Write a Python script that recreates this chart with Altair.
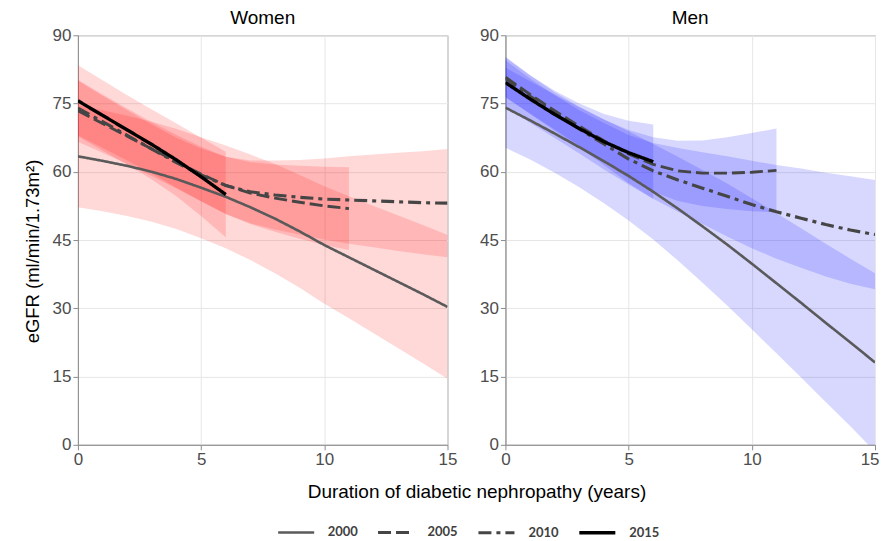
import altair as alt
import pandas as pd

# ---------------- data ----------------
YEARS = ["2000", "2005", "2010", "2015"]
X15 = list(range(16))
X11 = list(range(12))
X6 = list(range(7))

# Women
W2000_mid = [63.4, 62.4, 61.3, 60.0, 58.4, 56.5, 54.5, 52.2, 49.7, 46.9, 43.9, 41.2, 38.5, 35.8, 33.1, 30.3]
W2000_lo = [52.2, 51.3, 50.3, 49.0, 47.4, 45.4, 43.2, 40.6, 37.7, 34.5, 31.0, 27.8, 24.5, 21.2, 17.9, 14.5]
W2000_hi = [74.6, 73.5, 72.3, 71.0, 69.4, 67.6, 65.8, 63.8, 61.7, 59.3, 56.8, 54.6, 52.5, 50.4, 48.3, 46.1]

W2005_mid = [73.4, 70.6, 67.8, 65.0, 62.2, 59.5, 57.0, 55.3, 54.2, 53.3, 52.5, 51.9]
W2005_lo = [66.6, 64.2, 61.7, 59.1, 56.3, 53.5, 50.7, 48.5, 46.8, 45.3, 43.9, 42.8]
W2005_hi = [80.2, 77.0, 73.9, 70.9, 68.1, 65.5, 63.3, 62.1, 61.6, 61.3, 61.1, 61.0]

W2010_mid = [74.0, 71.0, 68.0, 65.0, 62.0, 59.3, 57.0, 55.6, 54.9, 54.4, 54.0, 53.8, 53.6, 53.4, 53.2, 53.1]
W2010_lo = [68.0, 65.3, 62.5, 59.6, 56.5, 53.5, 50.7, 48.7, 47.3, 46.2, 45.1, 44.2, 43.4, 42.6, 41.9, 41.2]
W2010_hi = [80.0, 76.7, 73.5, 70.4, 67.5, 65.1, 63.3, 62.5, 62.5, 62.6, 62.9, 63.4, 63.8, 64.2, 64.5, 65.0]

W2015_mid = [75.6, 72.4, 69.2, 66.0, 62.6, 58.9, 55.0]
W2015_lo = [67.8, 64.7, 61.6, 58.3, 54.6, 50.3, 45.6]
W2015_hi = [83.4, 80.1, 76.8, 73.7, 70.6, 67.5, 64.4]

# Men
M2000_mid = [74.1, 71.3, 68.4, 65.4, 62.3, 59.1, 55.6, 51.9, 48.0, 44.0, 39.8, 35.5, 31.2, 26.8, 22.5, 18.1]
M2000_lo = [65.3, 62.7, 59.8, 56.6, 53.1, 49.3, 45.1, 40.5, 35.6, 30.6, 25.4, 20.1, 14.8, 9.4, 4.1, -1.5]
M2000_hi = [82.9, 79.9, 77.0, 74.2, 71.5, 68.9, 66.1, 63.3, 60.4, 57.4, 54.2, 50.9, 47.6, 44.2, 40.9, 37.7]

M2005_mid = [80.8, 77.0, 73.4, 70.0, 66.8, 63.9, 61.6, 60.2, 59.7, 59.7, 59.9, 60.3]
M2005_lo = [76.3, 72.8, 69.3, 65.7, 62.1, 58.6, 55.6, 53.6, 52.5, 51.8, 51.3, 51.1]
M2005_hi = [85.3, 81.2, 77.5, 74.3, 71.5, 69.2, 67.6, 66.8, 66.9, 67.6, 68.5, 69.5]

M2010_mid = [80.5, 76.6, 72.9, 69.4, 66.1, 62.8, 60.2, 58.2, 56.4, 54.6, 52.8, 51.2, 49.8, 48.4, 47.2, 46.2]
M2010_lo = [76.5, 72.7, 69.0, 65.3, 61.5, 57.5, 54.1, 51.2, 48.5, 45.8, 43.2, 40.9, 38.9, 37.0, 35.4, 34.2]
M2010_hi = [84.5, 80.5, 76.8, 73.5, 70.7, 68.1, 66.3, 65.2, 64.3, 63.4, 62.4, 61.5, 60.7, 59.8, 59.0, 58.2]

M2015_mid = [79.6, 76.0, 72.6, 69.5, 66.6, 64.2, 62.2]
M2015_lo = [74.1, 70.8, 67.4, 64.0, 60.5, 57.2, 54.0]
M2015_hi = [85.1, 81.2, 77.8, 75.0, 72.7, 71.2, 70.4]

LINE_COLORS = ["#5a5a5a", "#454545", "#454545", "#000000"]
LINE_DASHES = [[1, 0], [13, 5], [13, 5, 4, 5], [1, 0]]
LINE_WIDTHS = [2.6, 3.4, 3.0, 3.2]
FILL = {"Women": "#ff1a1a", "Men": "#1a1aff"}

FONT = "Liberation Sans"

series = {
    "Women": [
        ("2000", X15, W2000_mid, W2000_lo, W2000_hi),
        ("2005", X11, W2005_mid, W2005_lo, W2005_hi),
        ("2010", X15, W2010_mid, W2010_lo, W2010_hi),
        ("2015", X6, W2015_mid, W2015_lo, W2015_hi),
    ],
    "Men": [
        ("2000", X15, M2000_mid, M2000_lo, M2000_hi),
        ("2005", X11, M2005_mid, M2005_lo, M2005_hi),
        ("2010", X15, M2010_mid, M2010_lo, M2010_hi),
        ("2015", X6, M2015_mid, M2015_lo, M2015_hi),
    ],
}


def frame(sex):
    rows = []
    for year, xs, mid, lo, hi in series[sex]:
        for x, m, l, h in zip(xs, mid, lo, hi):
            rows.append({"year": year, "x": x, "mid": m, "lo": l, "hi": h})
    return pd.DataFrame(rows)


LEGEND = alt.Legend(title=None, orient="none", direction="horizontal",
                    legendX=199, legendY=478,
                    symbolType="stroke", symbolStrokeWidth=3.5,
                    symbolSize=1300, labelFontSize=13,
                    labelFont="Lato", labelFontWeight="bold",
                    labelColor="#404040", labelOffset=12,
                    columnPadding=13)


def panel(sex, show_ytitle, show_xtitle):
    df = frame(sex)
    common = dict(values=[0, 5, 10, 15], labelFontSize=17, labelPadding=2,
                  labelFlush=False, tickSize=5, grid=True)
    if show_xtitle:
        xaxis = alt.Axis(title="Duration of diabetic nephropathy (years)",
                         titleX=399, titleY=38, titleFontSize=19,
                         titleFontWeight="normal", titleAlign="center",
                         titleBaseline="top", **common)
    else:
        # keep the last label inside the page width
        xaxis = alt.Axis(title=None,
                         labelAlign={"condition": {"test": "datum.value == 15", "value": "right"},
                                     "value": "center"},
                         labelOffset={"condition": {"test": "datum.value == 15", "value": 4},
                                      "value": 0},
                         **common)
    x = alt.X("x:Q", scale=alt.Scale(domain=[0, 15], nice=False, zero=False), axis=xaxis)
    yaxis = alt.Axis(values=[0, 15, 30, 45, 60, 75, 90],
                     title="eGFR (ml/min/1.73m²)" if show_ytitle else None,
                     titleFontSize=18.5, titleFontWeight="normal", titlePadding=10,
                     titleY=216,
                     labelFontSize=17, labelPadding=2, tickSize=5, grid=True)
    yscale = alt.Scale(domain=[0, 90], nice=False, zero=False)

    bands = alt.Chart(df).mark_area(opacity=0.17, clip=True, color=FILL[sex]).encode(
        x=x,
        y=alt.Y("lo:Q", scale=yscale, axis=yaxis),
        y2="hi:Q",
        detail="year:N",
    )
    lines = alt.Chart(df).mark_line(clip=True).encode(
        x=x,
        y=alt.Y("mid:Q", scale=yscale, axis=yaxis),
        color=alt.Color("year:N", scale=alt.Scale(domain=YEARS, range=LINE_COLORS),
                        legend=LEGEND),
        strokeDash=alt.StrokeDash("year:N", scale=alt.Scale(domain=YEARS, range=LINE_DASHES),
                                  legend=LEGEND),
        strokeWidth=alt.StrokeWidth("year:O", scale=alt.Scale(domain=YEARS, range=LINE_WIDTHS),
                                    legend=None),
        detail="year:N",
    )
    return alt.layer(bands, lines).properties(
        width=370, height=410,
        title=alt.TitleParams(sex, fontSize=19, font=FONT, fontWeight="normal",
                              anchor="middle", offset=-2, color="#000000"),
    )


left = panel("Women", True, True)
right = panel("Men", False, False)

chart = alt.hconcat(left, right, spacing=58, bounds="flush").resolve_scale(
    color="shared", strokeDash="shared", strokeWidth="shared"
).properties(
    padding={"left": 14, "top": 0, "right": 0, "bottom": 0}
).configure(font=FONT).configure_view(
    stroke="#8c8c8c", strokeWidth=1
).configure_axis(
    domainColor="#8c8c8c", tickColor="#8c8c8c", gridColor="#e6e6e6",
    labelColor="#4d4d4d", titleColor="#000000", labelFont=FONT, titleFont=FONT
)

chart.save("out.html", embed_options={"renderer": "svg", "actions": False})
